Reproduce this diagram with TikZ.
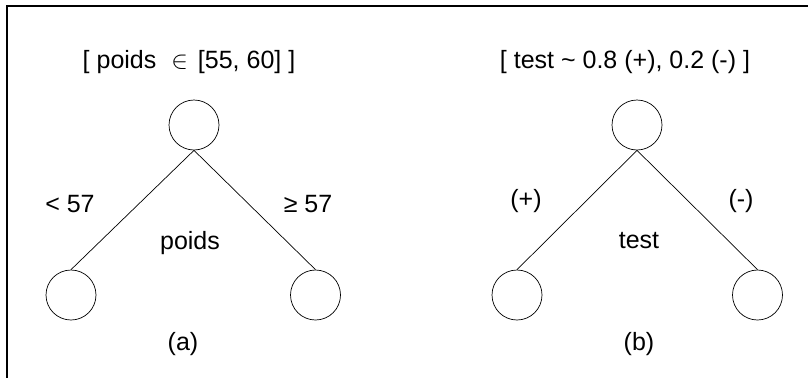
\documentclass[tikz,border=0pt]{standalone}
\usepackage{fontspec}
\setmainfont{Liberation Sans}
\begin{document}
\begin{tikzpicture}[x=1pt,y=-1pt,
  treenode/.style={draw,circle,minimum size=50pt,inner sep=0pt,line width=0.7pt},
  txt/.style={anchor=base,inner sep=0pt,font=\fontsize{25}{30}\selectfont},
  edge/.style={line width=0.7pt}]
\useasboundingbox (0,0) rectangle (808,378);
% frame
\coordinate (fr1) at (808,6);
\coordinate (fr2) at (7,6);
\coordinate (fr3) at (7,378);
\draw[line width=1.3pt] (fr1) -- (fr2) -- (fr3);
% tree (a)
\node[txt] (ta) at (189,68) {[ poids\hspace{15pt}{\fontsize{28}{30}\selectfont$\in$}\hspace{10pt}[55, 60] ]};
\node[treenode] (at) at (194,125) {};
\node[treenode] (al) at (71,295) {};
\node[treenode] (ar) at (315.5,295) {};
\draw[edge] (at.south) -- (al.north);
\draw[edge] (at.south) -- (ar.north);
\node[txt] (la) at (70,212) {< 57};
\node[txt] (ra) at (308,212) {≥ 57};
\node[txt] (va) at (190,249) {poids};
\node[txt] (ca) at (183,350) {(a)};
% tree (b)
\node[txt] (tb) at (625,68) {[ test \textasciitilde\ 0.8 (+), 0.2 (-) ]};
\node[treenode] (bt) at (637,125) {};
\node[treenode] (bl) at (517,295) {};
\node[treenode] (br) at (757.5,295) {};
\draw[edge] (bt.south) -- (bl.north);
\draw[edge] (bt.south) -- (br.north);
\node[txt] (lb) at (526,207) {(+)};
\node[txt] (rb) at (741,207) {(-)};
\node[txt] (vb) at (639,248) {test};
\node[txt] (cb) at (639,350) {(b)};
\end{tikzpicture}
\end{document}
